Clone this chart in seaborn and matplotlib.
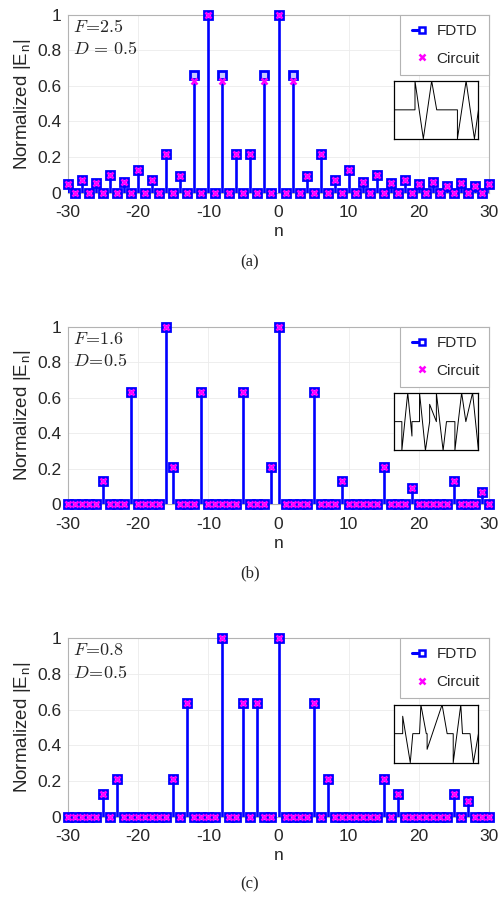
import matplotlib
matplotlib.use('Agg')
import matplotlib.pyplot as plt
import seaborn as sns
from matplotlib.lines import Line2D
from matplotlib.legend_handler import HandlerBase

sns.set_theme(style='whitegrid')
plt.rcParams['font.family'] = ['Liberation Sans', 'DejaVu Sans']
plt.rcParams['mathtext.fontset'] = 'cm'
plt.rcParams['axes.unicode_minus'] = False

# harmonic index
N = list(range(-30, 31))

# ---- panel (a): F=2.5, D=0.5 ----
A_FDTD = [0.047, 0, 0.071, 0, 0.053, 0, 0.10, 0, 0.062, 0,
          0.13, 0, 0.071, 0, 0.22, 0, 0.094, 0, 0.66, 0,
          1.0, 0, 0.66, 0, 0.22, 0, 0.22, 0, 0.66, 0,
          1.0, 0, 0.66, 0, 0.094, 0, 0.22, 0, 0.071, 0,
          0.13, 0, 0.062, 0, 0.10, 0, 0.053, 0, 0.071, 0,
          0.047, 0, 0.062, 0, 0.038, 0, 0.053, 0, 0.038, 0,
          0.047]
A_CIRC = [0.047, 0, 0.071, 0, 0.053, 0, 0.10, 0, 0.062, 0,
          0.13, 0, 0.071, 0, 0.22, 0, 0.094, 0, 0.63, 0,
          1.0, 0, 0.63, 0, 0.22, 0, 0.22, 0, 0.63, 0,
          1.0, 0, 0.63, 0, 0.094, 0, 0.22, 0, 0.071, 0,
          0.13, 0, 0.062, 0, 0.10, 0, 0.053, 0, 0.071, 0,
          0.047, 0, 0.062, 0, 0.038, 0, 0.053, 0, 0.038, 0,
          0.047]

# ---- panel (b): F=1.6, D=0.5 ----
B_FDTD = [0, 0, 0, 0, 0, 0.13, 0, 0, 0, 0.635,
          0, 0, 0, 0, 1.0, 0.21, 0, 0, 0, 0.635,
          0, 0, 0, 0, 0, 0.635, 0, 0, 0, 0.21,
          1.0, 0, 0, 0, 0, 0.635, 0, 0, 0, 0.13,
          0, 0, 0, 0, 0, 0.21, 0, 0, 0, 0.09,
          0, 0, 0, 0, 0, 0.13, 0, 0, 0, 0.07,
          0]
B_CIRC = list(B_FDTD)

# ---- panel (c): F=0.8, D=0.5 ----
C_FDTD = [0, 0, 0, 0, 0, 0.13, 0, 0.21, 0, 0,
          0, 0, 0, 0, 0, 0.21, 0, 0.635, 0, 0,
          0, 0, 1.0, 0, 0, 0.635, 0, 0.635, 0, 0,
          1.0, 0, 0, 0, 0, 0.635, 0, 0.21, 0, 0,
          0, 0, 0, 0, 0, 0.21, 0, 0.13, 0, 0,
          0, 0, 0, 0, 0, 0.13, 0, 0.09, 0, 0,
          0]
C_CIRC = list(C_FDTD)

# inset waveforms (normalised time, normalised amplitude)
WAVE_A_T = [0, 0.246, 0.246, 0.345, 0.444, 0.504, 0.75, 0.75, 0.853, 0.952, 1.0]
WAVE_A_V = [0.5, 0.5, 1.0, 0.0, 1.0, 0.5, 0.5, 0.0, 1.0, 0.0, 0.5]
WAVE_B_T = [0, 0.09, 0.09, 0.16, 0.21, 0.21, 0.30, 0.30, 0.37, 0.42, 0.42, 0.50,
            0.50, 0.58, 0.62, 0.62, 0.72, 0.72, 0.80, 0.85, 0.85, 0.93, 1.0]
WAVE_B_V = [0.5, 0.5, 0.0, 1.0, 0.25, 0.5, 0.5, 1.0, 0.0, 0.5, 0.8, 0.5,
            1.0, 0.0, 0.5, 0.5, 0.5, 0.0, 1.0, 0.5, 0.5, 1.0, 0.0]
WAVE_C_T = [0, 0.07, 0.10, 0.10, 0.19, 0.22, 0.30, 0.316, 0.38, 0.39, 0.39,
            0.568, 0.628, 0.70, 0.70, 0.79, 0.81, 0.90, 0.94, 1.0]
WAVE_C_V = [0.5, 0.5, 0.5, 0.8, 0.0, 0.5, 0.5, 1.0, 0.5, 0.5, 0.23,
            1.0, 0.5, 0.5, 0.0, 1.0, 0.5, 0.5, 0.0, 0.5]

PANELS = [
    ('(a)', A_FDTD, A_CIRC, r'$F\!=\!2.5$', r'$D\,=\,0.5$', WAVE_A_T, WAVE_A_V),
    ('(b)', B_FDTD, B_CIRC, r'$F\!=\!1.6$', r'$D\!=\!0.5$', WAVE_B_T, WAVE_B_V),
    ('(c)', C_FDTD, C_CIRC, r'$F\!=\!0.8$', r'$D\!=\!0.5$', WAVE_C_T, WAVE_C_V),
]

# axes boxes in pixels: (top, bottom)
W, H = 499, 899
AX_LEFT, AX_RIGHT = 68, 489
AX_ROWS = [(14.7, 192.7), (326.7, 504.3), (638.3, 816.7)]
CAPTION_Y = [262, 573, 884]

BLUE = '#0000ff'
MAGENTA = '#ff00ff'


class StemHandler(HandlerBase):
    """MATLAB-like stem legend icon: short line ending in a square."""
    def create_artists(self, legend, orig_handle, xdescent, ydescent,
                       width, height, fontsize, trans):
        y = height / 2 - ydescent
        x0 = -xdescent + width * 0.1
        xc = -xdescent + width / 2
        line = Line2D([x0, xc], [y, y], color=BLUE, lw=2.2)
        mk = Line2D([xc], [y], marker='s', ms=4.8, mfc='white', mec=BLUE,
                    mew=1.8, ls='none')
        line.set_transform(trans)
        mk.set_transform(trans)
        return [line, mk]


fig = plt.figure(figsize=(W / 100, H / 100), dpi=100)

for (cap, fdtd, circ, ftxt, dtxt, wt, wv), (top, bot), cy in zip(PANELS, AX_ROWS, CAPTION_Y):
    ax = fig.add_axes([AX_LEFT / W, 1 - bot / H, (AX_RIGHT - AX_LEFT) / W, (bot - top) / H])
    ax.set_facecolor('white')

    ax.vlines(N, 0, fdtd, color=BLUE, lw=1.9, zorder=3)
    ax.plot(N, fdtd, ls='none', marker='s', ms=5.2, mfc='#c8c8ff', mec=BLUE,
            mew=2.0, clip_on=False, zorder=4)
    ax.plot(N, circ, ls='none', marker='x', ms=4.8, mec=MAGENTA, mew=1.8,
            clip_on=False, zorder=5)

    ax.set_xlim(-30, 30)
    ax.set_ylim(0, 1)
    ax.set_xticks(range(-30, 31, 10))
    ax.set_yticks([0, 0.2, 0.4, 0.6, 0.8, 1.0])
    ax.set_yticklabels(['0', '0.2', '0.4', '0.6', '0.8', '1'])
    ax.tick_params(labelsize=12.5, colors='0.15', direction='in', length=3,
                   width=0.6)
    ax.tick_params(axis='x', pad=9)
    ax.tick_params(axis='y', pad=5)
    ax.grid(True, color='0.92', lw=0.6)
    for s in ax.spines.values():
        s.set_color('0.7')
        s.set_linewidth(0.8)

    ax.set_xlabel('n', fontsize=12.5, color='0.15', labelpad=3)
    ax.set_ylabel(r'Normalized |E$_\mathregular{n}$|', fontsize=13.5, color='0.15',
                  labelpad=3)

    ax.text(0.012, 0.93, ftxt, transform=ax.transAxes, fontsize=13,
            ha='left', va='center', zorder=6)
    ax.text(0.012, 0.805, dtxt, transform=ax.transAxes, fontsize=13,
            ha='left', va='center', zorder=6)

    handles = [Line2D([0], [0], color=BLUE),
               Line2D([0], [0], ls='none', marker='x', ms=4.6, mec=MAGENTA, mew=1.8)]
    leg = ax.legend(handles, ['FDTD', 'Circuit'], loc='upper right',
                    bbox_to_anchor=(1.0, 1.0), borderaxespad=0,
                    fontsize=11, frameon=True, fancybox=False,
                    handlelength=1.7, handletextpad=0.1,
                    labelspacing=0.9, borderpad=0.6,
                    handler_map={handles[0]: StemHandler()})
    leg.get_frame().set_edgecolor('0.7')
    leg.get_frame().set_linewidth(0.8)
    leg.get_frame().set_facecolor('white')
    leg.get_frame().set_alpha(1)
    leg.set_zorder(7)

    ins = ax.inset_axes([0.775, 0.303, 0.2, 0.325])
    ins.plot(wt, wv, color='black', lw=0.7)
    ins.set_xlim(0, 1)
    ins.set_ylim(0, 1)
    ins.set_xticks([])
    ins.set_yticks([])
    ins.grid(False)
    ins.set_facecolor('white')
    for s in ins.spines.values():
        s.set_color('black')
        s.set_linewidth(0.9)
    ins.set_zorder(7)

    fig.text(0.501, 1 - cy / H, cap, ha='center', va='center', fontsize=12,
             family=['Liberation Serif', 'DejaVu Serif'])

fig.savefig('out.png', dpi=100)
